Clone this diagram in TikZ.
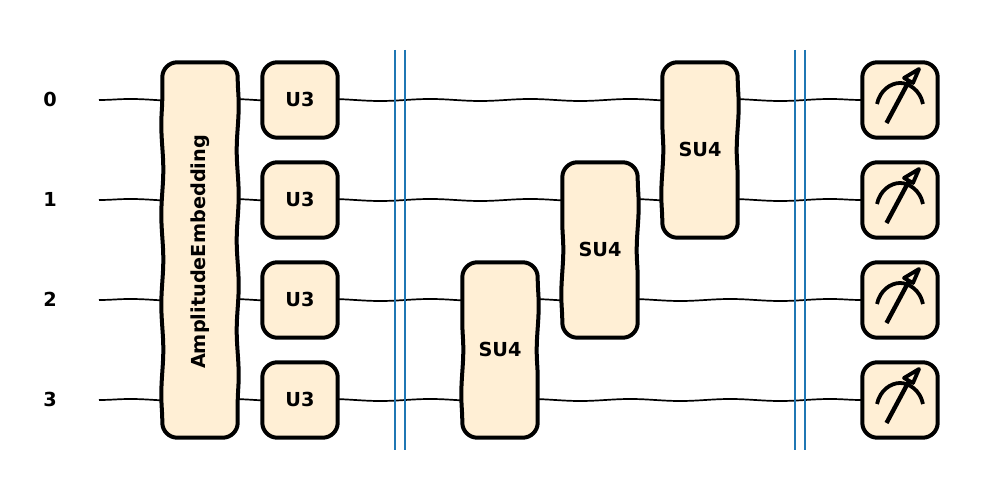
\documentclass[tikz,border=0pt]{standalone}
\usepackage{fontspec}
\setmainfont{DejaVu Sans}
\usetikzlibrary{positioning,calc,backgrounds,decorations.pathmorphing}
\definecolor{gatefill}{HTML}{FFEFD5}
\definecolor{barrierblue}{HTML}{1F77B4}
\tikzset{
	wigglewire/.style={line width=1.7pt,decorate,decoration={snake,segment length=100pt,amplitude=1pt}},
	gate/.style={shape=rectangle,inner sep=0pt,minimum width=75pt,minimum height=75pt,text depth=2pt,
		font=\bfseries\fontsize{19.3}{20}\selectfont},
	gateframe/.style={draw,fill=gatefill,line width=4pt,line join=round,
		decoration={snake,segment length=90pt,amplitude=1pt}},
	wirelabel/.style={text depth=2pt,font=\bfseries\fontsize{19.3}{20}\selectfont},
	barrier/.style={draw=barrierblue,line width=1.8pt},
}

\begin{document}
\begin{tikzpicture}[x=1pt,y=1pt,on grid,node distance=100pt]
	\useasboundingbox (0,0) rectangle (1000,500);
	% create wire labels
	\node (w0) [wirelabel] at (50,400) {0};
	\node (w1) [wirelabel,below = of w0] {1};
	\node (w2) [wirelabel,below = of w1] {2};
	\node (w3) [wirelabel,below = of w2] {3};

	% create gates
	\node (emb) [gate,minimum height=375pt] at ($(w0)!.5!(w3)+(150,0)$) {\rotatebox{90}{AmplitudeEmbedding\hspace*{6pt}}};
	\node (u0) [gate,right = 250pt of w0] {U3};
	\node (u1) [gate,below = of u0] {U3};
	\node (u2) [gate,below = of u1] {U3};
	\node (u3) [gate,below = of u2] {U3};
	\node (su23) [gate,minimum height=175pt] at ($(w2)!.5!(w3)+(450,0)$) {SU4};
	\node (su12) [gate,minimum height=175pt] at ($(w1)!.5!(w2)+(550,0)$) {SU4};
	\node (su01) [gate,minimum height=175pt] at ($(w0)!.5!(w1)+(650,0)$) {SU4};
	\node (M0) [gate,right = 850pt of w0] {};
	\node (M1) [gate,below = of M0] {};
	\node (M2) [gate,below = of M1] {};
	\node (M3) [gate,below = of M2] {};

	% wires run behind the gate outlines
	\begin{scope}[on background layer]
		\foreach \i in {0,1,2,3} {
			\coordinate (s\i) at ($(w\i)+(49,0)$);
			\draw[wigglewire] (s\i) to (M\i);
		}
		\foreach \g in {emb,u0,u1,u2,u3,su23,su12,su01,M0,M1,M2,M3} {
			\draw[gateframe] ($(\g.north west)+(15,0)$) decorate {-- ($(\g.north east)+(-15,0)$)}
				arc[start angle=90,end angle=0,radius=15] decorate {-- ($(\g.south east)+(0,15)$)}
				arc[start angle=0,end angle=-90,radius=15] decorate {-- ($(\g.south west)+(15,0)$)}
				arc[start angle=-90,end angle=-180,radius=15] decorate {-- ($(\g.north west)+(0,-15)$)}
				arc[start angle=180,end angle=90,radius=15] -- cycle;
		}
	\end{scope}

	% barriers
	\foreach \x/\n in {395/a,405/b,795/c,805/d} {
		\coordinate (\n top) at (\x,450);
		\coordinate (\n bot) at (\x,50);
		\draw[barrier] (\n top) to (\n bot);
	}

	% measurement symbols
	\foreach \i in {0,1,2,3} {
		\begin{scope}[shift={(M\i.center)}]
			\draw[line width=3.8pt] (-23,-4) .. controls (-20,10) and (-9,17) .. (0,17) .. controls (9,17) and (20,10) .. (23,-4);
			\draw[line width=4.4pt] (-13.5,-23) to (9,19);
			\draw[line width=3.8pt,fill=gatefill,line join=round] (19,31) to (13,17) to (4,22) to cycle;
		\end{scope}
	}
\end{tikzpicture}
\end{document}
